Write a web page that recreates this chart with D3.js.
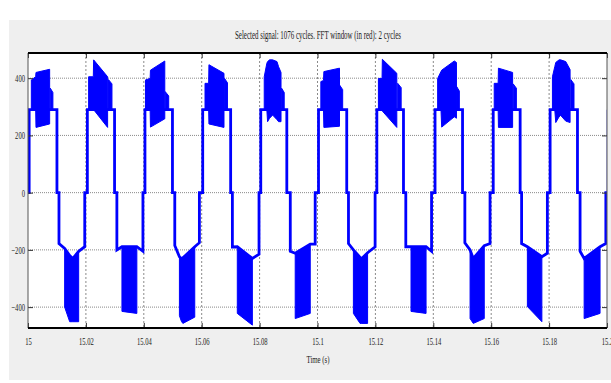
<!DOCTYPE html>
<html>
<head>
<meta charset="utf-8">
<script src="https://cdn.jsdelivr.net/npm/d3@7/dist/d3.min.js"></script>
<style>
body { margin: 0; background: #fff; }
text { font-family: "Liberation Serif", "Times New Roman", serif; fill: #222; }
</style>
</head>
<body>
<div id="chart-area"></div>
<script>

// ---- data ----
// one 20 ms period per entry, offsets are in ms from the period start
let periodStarts = [15.00, 15.02, 15.04, 15.06, 15.08, 15.10, 15.12, 15.14, 15.16, 15.18];

let yTicks = [-400, -200, 0, 200, 400];
let xTicks = [15, 15.02, 15.04, 15.06, 15.08, 15.1, 15.12, 15.14, 15.16, 15.18, 15.2];
let xTickLabels = ["15", "15.02", "15.04", "15.06", "15.08", "15.1", "15.12", "15.14", "15.16", "15.18", "15.2"];

let stepLevel = 290;

let posRise = [0.4, 0.5, 0.4, 0.35, 0.4, 0.35, 0.5, 0.6, 0.7, 0.35];
let posFall = [10.0, 9.9, 9.9, 10.0, 9.4, 10.1, 9.7, 10.1, 10.0, 9.8];
let negFall = [10.7, 10.7, 10.7, 10.6, 10.6, 10.7, 10.5, 10.9, 10.5, 10.7];
let negRise = [19.6, 19.7, 19.2, 19.8, 19.2, 19.9, 19.4, 19.6, 19.4, 19.6];
let negLead = [-178, -200, -185, -190, -205, -178, -189, -175, -178, -205];
let negTail = [-189, -205, -175, -215, -180, -189, -205, -178, -212, -178];

// [ms, top, bottom] envelope of the switching band, positive half
let posBand = [
  [[1.15, 394, 290], [2.65, 405, 290], [2.76, 420, 228], [7.48, 431, 240]],
  [[0.94, 405, 290], [2.56, 405, 290], [2.67, 464, 290], [7.5, 405, 228]],
  [[0.58, 394, 290], [2.19, 399, 290], [2.3, 428, 229], [7.25, 460, 258]],
  [[1.15, 382, 290], [2.4, 382, 290], [2.5, 447, 240], [7.7, 417, 228]],
  [[1.6, 405, 290], [2.5, 452, 290], [2.76, 458, 248], [3.45, 464, 260], [4.5, 464, 271], [6.0, 458, 255], [6.56, 440, 248], [7.4, 420, 248]],
  [[1.15, 388, 290], [2.07, 392, 290], [2.2, 423, 228], [7.6, 435, 232]],
  [[1.04, 399, 290], [2.3, 399, 290], [2.4, 466, 285], [7.4, 417, 228]],
  [[1.5, 399, 290], [2.65, 423, 290], [2.9, 428, 229], [7.25, 460, 265], [8.0, 455, 260]],
  [[1.04, 382, 290], [2.4, 382, 290], [2.5, 435, 228], [7.4, 420, 228]],
  [[1.15, 405, 290], [1.96, 440, 290], [2.3, 455, 245], [3.45, 464, 265], [4.0, 464, 270], [5.75, 458, 250], [7.25, 430, 245]]
];

// [start ms, end ms, top] of the narrow burst after the main band
let posSpike = [
  [7.7, 8.6, 365], [7.8, 9.0, 395], [7.4, 8.6, 353], [7.9, 8.9, 399], [7.6, 8.5, 365],
  [7.7, 8.7, 375], [7.7, 8.9, 382], [8.1, 9.0, 370], [7.6, 8.7, 380], [7.5, 8.6, 395]
];

// [ms, top, bottom] envelope, negative half
let negBand = [
  [[12.66, -195, -400], [14.4, -220, -451], [15.5, -230, -451], [17.5, -205, -451]],
  [[12.45, -189, -415], [17.6, -189, -422]],
  [[12.3, -224, -430], [13.0, -230, -450], [13.5, -228, -457], [17.6, -189, -435]],
  [[12.3, -189, -422], [17.5, -230, -463]],
  [[12.3, -212, -440], [17.5, -180, -422]],
  [[12.4, -200, -422], [14.7, -226, -457], [15.3, -230, -457], [17.3, -210, -457]],
  [[12.3, -189, -415], [17.5, -189, -422]],
  [[12.7, -200, -440], [13.8, -230, -457], [17.6, -185, -440]],
  [[12.5, -189, -398], [17.5, -224, -451]],
  [[12.1, -230, -440], [17.6, -189, -422]]
];

// ---- drawing area ----
let margin = {top: 53, right: 4, bottom: 55, left: 28};
let width = 611 - margin.left - margin.right,
    height = 383 - margin.top - margin.bottom;

let root = d3.select("#chart-area").append("svg")
    .attr("width", 611)
    .attr("height", 383);

root.append("rect")
    .attr("x", 9).attr("y", 20)
    .attr("width", 602).attr("height", 360)
    .attr("fill", "#efefef");

let svg = root.append("g")
    .attr("transform", "translate(" + margin.left + "," + margin.top + ")");

let x = d3.scaleLinear().domain([15, 15.2]).range([0, width]);
let y = d3.scaleLinear().domain([-473, 488]).range([height, 0]);

svg.append("rect")
    .attr("width", width).attr("height", height)
    .attr("fill", "#fff");

svg.append("clipPath").attr("id", "clip")
  .append("rect").attr("width", width).attr("height", height);

// grid
svg.selectAll(".hgrid").data(yTicks).enter().append("line")
    .attr("class", "hgrid")
    .attr("x1", 0).attr("x2", width)
    .attr("y1", d => y(d)).attr("y2", d => y(d))
    .attr("stroke", "#8a8a8a").attr("stroke-width", 1)
    .attr("stroke-dasharray", "1,1");

svg.selectAll(".vgrid").data(xTicks.slice(1, -1)).enter().append("line")
    .attr("class", "vgrid")
    .attr("y1", 0).attr("y2", height)
    .attr("x1", d => x(d)).attr("x2", d => x(d))
    .attr("stroke", "#8a8a8a").attr("stroke-width", 1)
    .attr("stroke-dasharray", "2,2");

// signal
let plot = svg.append("g").attr("clip-path", "url(#clip)");

let ms = (k, t) => periodStarts[k] + t / 1000;

let pts = [[15, 0]];
periodStarts.forEach(function(s, k) {
    pts.push([ms(k, posRise[k]), 0]);
    pts.push([ms(k, posRise[k]), stepLevel]);
    pts.push([ms(k, posFall[k]), stepLevel]);
    pts.push([ms(k, posFall[k]), 0]);
    pts.push([ms(k, negFall[k]), 0]);
    pts.push([ms(k, negFall[k]), negLead[k]]);
    negBand[k].forEach(function(p) { pts.push([ms(k, p[0]), p[1]]); });
    pts.push([ms(k, negRise[k]), negTail[k]]);
    pts.push([ms(k, negRise[k]), 0]);
});
pts.push([15.2004, 0]);
pts.push([15.2004, stepLevel]);

let line = d3.line().x(d => x(d[0])).y(d => y(d[1]));
let area = d3.area().x(d => x(d[0])).y0(d => y(d[2])).y1(d => y(d[1]));

let bands = [];
periodStarts.forEach(function(s, k) {
    bands.push(posBand[k].map(p => [ms(k, p[0]), p[1], p[2]]));
    bands.push(negBand[k].map(p => [ms(k, p[0]), p[1], p[2]]));
    let sp = posSpike[k];
    bands.push([[ms(k, sp[0]), sp[2], stepLevel], [ms(k, sp[1]), sp[2] - 15, stepLevel]]);
});

plot.selectAll(".band").data(bands).enter().append("path")
    .attr("class", "band")
    .attr("d", area)
    .attr("fill", "#0000ff")
    .attr("stroke", "#0000ff")
    .attr("stroke-width", 1);

plot.append("path")
    .datum(pts)
    .attr("d", line)
    .attr("fill", "none")
    .attr("stroke", "#0000ff")
    .attr("stroke-width", 2.8);

// axes (ticks inside the box)
function squeeze(sel, f) {
    sel.selectAll("text").each(function() {
        let w = this.getComputedTextLength();
        d3.select(this).attr("textLength", w * f).attr("lengthAdjust", "spacingAndGlyphs");
    });
}

let yAxis = d3.axisLeft(y).tickValues(yTicks).tickSize(-5).tickPadding(3);
let yg = svg.append("g").call(yAxis);
yg.select(".domain").remove();

let xAxis = d3.axisBottom(x).tickValues(xTicks)
    .tickFormat((d, i) => xTickLabels[i]).tickSize(-5).tickPadding(9);
let xg = svg.append("g").attr("transform", "translate(0," + height + ")").call(xAxis);
xg.select(".domain").remove();

let rg = svg.append("g").attr("transform", "translate(" + width + ",0)")
    .call(d3.axisRight(y).tickValues(yTicks).tickSize(-5).tickFormat(""));
rg.select(".domain").remove();
let tg = svg.append("g")
    .call(d3.axisTop(x).tickValues(xTicks).tickSize(-5).tickFormat(""));
tg.select(".domain").remove();

svg.selectAll(".tick line").attr("stroke", "#333");
svg.selectAll(".tick text").style("font-size", "11px").attr("fill", "#222")
    .style("font-family", "'Liberation Serif', serif");
squeeze(yg, 0.6);
squeeze(xg, 0.6);

// frame
svg.append("line").attr("x1", 0).attr("x2", 0).attr("y1", 0).attr("y2", height)
    .attr("stroke", "#555").attr("stroke-width", 1);
svg.append("line").attr("x1", width).attr("x2", width).attr("y1", 0).attr("y2", height)
    .attr("stroke", "#555").attr("stroke-width", 1);
svg.append("line").attr("x1", 0).attr("x2", width).attr("y1", 0).attr("y2", 0)
    .attr("stroke", "#000").attr("stroke-width", 2);
svg.append("line").attr("x1", 0).attr("x2", width).attr("y1", height).attr("y2", height)
    .attr("stroke", "#000").attr("stroke-width", 2);

// titles
let title = root.append("text")
    .attr("x", 318).attr("y", 39)
    .attr("text-anchor", "middle")
    .style("font-size", "12px")
    .text("Selected signal: 1076 cycles. FFT window (in red): 2 cycles");
title.attr("textLength", 166).attr("lengthAdjust", "spacingAndGlyphs");

let xt = root.append("text")
    .attr("x", 318).attr("y", 363)
    .attr("text-anchor", "middle")
    .style("font-size", "11px")
    .text("Time (s)");
xt.attr("textLength", xt.node().getComputedTextLength() * 0.62).attr("lengthAdjust", "spacingAndGlyphs");

</script>
</body>
</html>
